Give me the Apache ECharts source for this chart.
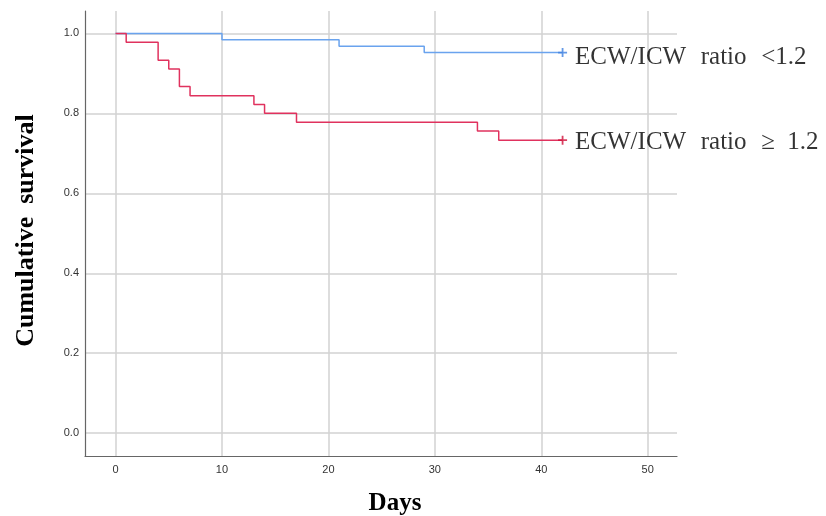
<!DOCTYPE html>
<html><head><meta charset="utf-8">
<script src="https://cdn.jsdelivr.net/npm/echarts@6/dist/echarts.min.js"></script>
<style>html,body{margin:0;padding:0;background:#fff}#c{width:826px;height:516px}</style>
</head><body><div id="c"></div>
<script>
// Kaplan-Meier step data: [day, survival after event]
var lowDays = [0, 10, 21, 29, 42];
var lowSurv = [1.0, 0.984, 0.968, 0.952, 0.952];
var highDays = [0, 1, 4, 5, 6, 7, 13, 14, 17, 34, 36, 42];
var highSurv = [1.0, 0.978, 0.933, 0.911, 0.867, 0.844, 0.822, 0.800, 0.778, 0.756, 0.733, 0.733];
var censorLow = [[42, 0.952]];
var censorHigh = [[42, 0.733]];
var labelLow = 'ECW/ICW  \u200Aratio  \u200A<1.2';
var labelHigh = 'ECW/ICW  \u200Aratio  \u200A\u2265  1.2';
var xTicks = [0, 10, 20, 30, 40, 50];
var yTicks = [0, 0.2, 0.4, 0.6, 0.8, 1.0];

function pairs(a, b) { return a.map(function (v, i) { return [v, b[i]]; }); }
var plus = 'path://M4,0H6V4H10V6H6V10H4V6H0V4H4Z';
var blue = '#6aa3ee', red = '#e0325e';
var serifLabel = { show: true, position: 'right', distance: 8,
  fontFamily: 'Liberation Serif', fontSize: 25, color: '#000' };

var chart = echarts.init(document.getElementById('c'), null, { renderer: 'canvas' });
chart.setOption({
  animation: false,
  backgroundColor: '#fff',
  grid: { left: 85, right: 149, top: 11, bottom: 60, containLabel: false, outerBoundsMode: 'none' },
  xAxis: {
    type: 'value', min: -2.87, max: 52.75,
    name: 'Days', nameLocation: 'middle', nameGap: 35,
    nameTextStyle: { fontFamily: 'Liberation Serif', fontWeight: 'bold', fontSize: 25, color: '#000',
      padding: [0, 0, 0, 28] },
    axisLine: { show: true, onZero: false, lineStyle: { color: '#666', width: 1.2 } },
    axisTick: { show: false, customValues: xTicks },
    axisLabel: { customValues: xTicks, margin: 8, fontFamily: 'Liberation Sans', fontSize: 11, color: '#333' },
    splitLine: { show: true, lineStyle: { color: '#d2d2d2', width: 1.5 } }
  },
  yAxis: {
    type: 'value', min: -0.057, max: 1.056,
    name: 'Cumulative  survival', nameLocation: 'middle', nameGap: 46, nameRotate: 90,
    nameTextStyle: { fontFamily: 'Liberation Serif', fontWeight: 'bold', fontSize: 26, color: '#000',
      padding: [0, 0, 0, 6] },
    axisLine: { show: true, onZero: false, lineStyle: { color: '#666', width: 1.2 } },
    axisTick: { show: false, customValues: yTicks },
    axisLabel: { customValues: yTicks, margin: 6, fontFamily: 'Liberation Sans', fontSize: 11, color: '#333',
      formatter: function (v) { return v.toFixed(1); } },
    splitLine: { show: true, lineStyle: { color: '#d2d2d2', width: 1.5 } }
  },
  series: [
    { type: 'line', step: 'end', data: pairs(lowDays, lowSurv), showSymbol: false,
      lineStyle: { color: blue, width: 1.5 }, z: 3 },
    { type: 'line', step: 'end', data: pairs(highDays, highSurv), showSymbol: false,
      lineStyle: { color: red, width: 1.5 }, z: 4 },
    { type: 'scatter', data: censorLow, symbol: plus, symbolSize: 9,
      itemStyle: { color: '#3d7fe0' }, z: 5,
      label: Object.assign({}, serifLabel, { formatter: labelLow, offset: [0, 5] }) },
    { type: 'scatter', data: censorHigh, symbol: plus, symbolSize: 9,
      itemStyle: { color: '#d0103a' }, z: 5,
      label: Object.assign({}, serifLabel, { formatter: labelHigh, offset: [0, 2] }) }
  ]
});
</script></body></html>
